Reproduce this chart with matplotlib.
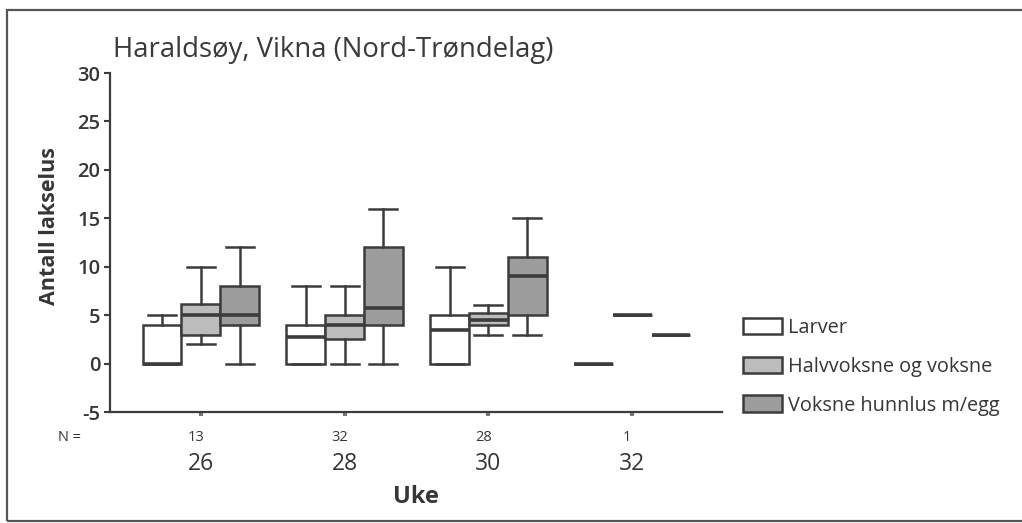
import matplotlib
matplotlib.use("Agg")
import matplotlib.pyplot as plt
from matplotlib.patches import Rectangle, Patch
from matplotlib.transforms import blended_transform_factory

plt.rcParams['font.family'] = ['Open Sans', 'DejaVu Sans']

# Weeks and number of fish sampled
weeks = ["26", "28", "30", "32"]
n_fish = ["13", "32", "28", "1"]
stages = ["Larver", "Halvvoksne og voksne", "Voksne hunnlus m/egg"]

# Box statistics per stage, one entry per week: whislo, q1, median, q3, whishi
larver = {
    "whislo": [0, 0, 0, 0],
    "q1":     [0, 0, 0, 0],
    "med":    [0, 2.7, 3.5, 0],
    "q3":     [4, 4, 5, 0],
    "whishi": [5, 8, 10, 0],
}
halvvoksne = {
    "whislo": [2, 0, 3, 5],
    "q1":     [3, 2.5, 4, 5],
    "med":    [5, 4, 4.5, 5],
    "q3":     [6.2, 5, 5.2, 5],
    "whishi": [10, 8, 6, 5],
}
voksne_hunn = {
    "whislo": [0, 0, 3, 3],
    "q1":     [4, 4, 5, 3],
    "med":    [5, 5.7, 9, 3],
    "q3":     [8, 12, 11, 3],
    "whishi": [12, 16, 15, 3],
}

series = [larver, halvvoksne, voksne_hunn]
fills = ["#ffffff", "#bcbcbc", "#9c9c9c"]
edge = "#3c3c3c"
txt = "#363636"

fig = plt.figure(figsize=(10.22, 5.23), dpi=100)
ax = fig.add_axes([0.1076, 0.2122, 0.5989, 0.6482])

width = 0.27
offsets = [-width, 0, width]
handles = []
for s, off, fc in zip(series, offsets, fills):
    stats = []
    for i in range(len(weeks)):
        stats.append({
            "whislo": s["whislo"][i], "q1": s["q1"][i], "med": s["med"][i],
            "q3": s["q3"][i], "whishi": s["whishi"][i], "fliers": [],
        })
    pos = [i + off for i in range(len(weeks))]
    ax.bxp(stats, positions=pos, widths=width, patch_artist=True,
           showfliers=False, capwidths=width * 0.72, manage_ticks=False,
           boxprops=dict(facecolor=fc, edgecolor=edge, linewidth=1.8),
           whiskerprops=dict(color=edge, linewidth=1.8),
           capprops=dict(color=edge, linewidth=1.8),
           medianprops=dict(color=edge, linewidth=2.6, solid_capstyle='butt'))
    handles.append(Patch(facecolor=fc, edgecolor=edge, linewidth=1.8))

ax.set_xlim(-0.632, 3.625)
ax.set_ylim(-5, 30)
ax.set_yticks(range(-5, 31, 5))
ax.set_yticklabels([str(v) for v in range(-5, 31, 5)], fontsize=14.5,
                   fontweight='semibold', color=txt)
ax.set_xticks(range(len(weeks)))
ax.set_xticklabels(weeks, fontsize=16.5, color=txt, fontweight='medium')
ax.tick_params(axis='x', length=3, width=3, color='#777777', pad=26)
ax.tick_params(axis='y', length=4, width=1.5, color=edge, pad=3)

for side in ("top", "right"):
    ax.spines[side].set_visible(False)
for side in ("left", "bottom"):
    ax.spines[side].set_linewidth(1.6)
    ax.spines[side].set_color(edge)

trans = blended_transform_factory(ax.transData, ax.transAxes)
for i, n in enumerate(n_fish):
    ax.text(i - 0.035, -0.075, n, transform=trans, ha='center', va='center',
            fontsize=10.5, color=txt)
ax.text(-0.91, -0.075, "N =", transform=trans, ha='center', va='center',
        fontsize=10.5, color=txt)

ax.set_xlabel("Uke", fontsize=17, fontweight='bold', color=txt, labelpad=6)
ax.set_ylabel("Antall lakselus", fontsize=15.5, fontweight='bold', color=txt)
ax.yaxis.set_label_coords(-0.082, 0.55)

fig.text(0.1106, 0.905, "Haraldsøy, Vikna (Nord-Trøndelag)", fontsize=19.8,
         fontweight='medium', color='#3a3a3a', ha='left', va='center')

leg = fig.legend(handles, stages, loc='upper left',
                 bbox_to_anchor=(0.7195, 0.408), frameon=False, fontsize=14.3,
                 handlelength=1.95, handleheight=0.9, handletextpad=0.3,
                 labelspacing=0.95, borderaxespad=0)
for t in leg.get_texts():
    t.set_color(txt)

# Outer frame around the figure
fig.patches.append(Rectangle((0.007, 0.004), 1.2, 0.977, transform=fig.transFigure,
                             fill=False, edgecolor='#555555', linewidth=1.6))

fig.savefig("out.png", dpi=100)
